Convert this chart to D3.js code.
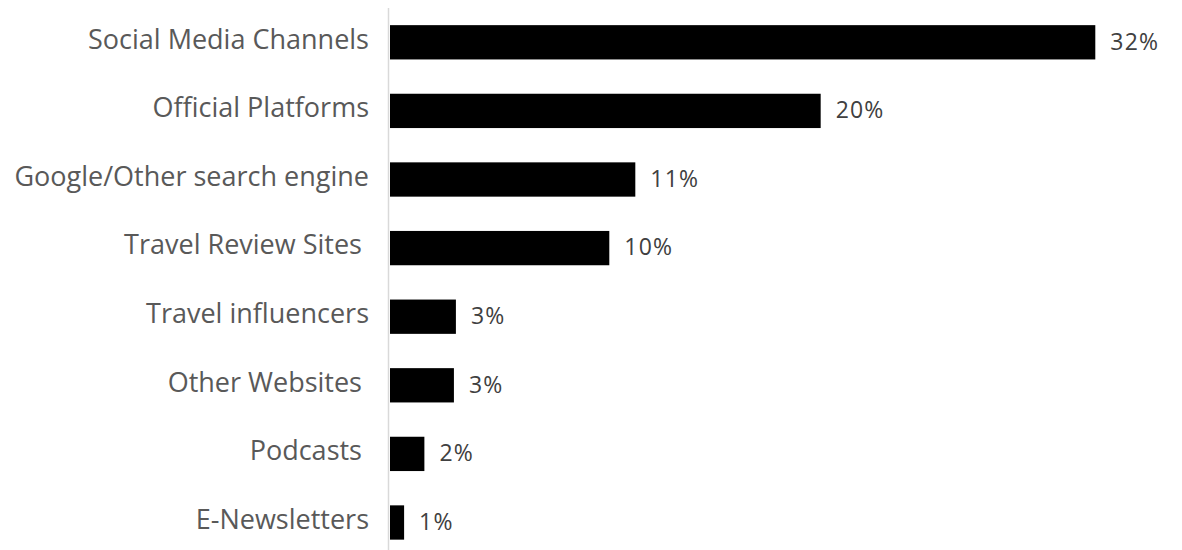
<!DOCTYPE html>
<html>
<head>
<meta charset="utf-8">
<script src="https://cdn.jsdelivr.net/npm/d3@7"></script>
<style>
  html, body { margin: 0; padding: 0; background: #ffffff; }
  svg { display: block; }
  .cat { font-family: "Open Sans", Roboto, sans-serif; font-size: 27px; font-weight: 400; fill: #595959; white-space: pre; }
  .val { font-family: "Open Sans", Roboto, sans-serif; font-size: 23px; font-weight: 400; letter-spacing: 1.2px; fill: #404040; }
</style>
</head>
<body>
<svg id="chart" width="1182" height="550"></svg>
<script>
// Information sources, share of respondents (%)
const categories = [
  "Social Media Channels",
  "Official Platforms",
  "Google/Other search engine",
  "Travel Review Sites ",
  "Travel influencers",
  "Other Websites ",
  "Podcasts ",
  "E-Newsletters"
];
const values = [32, 19.54, 11.13, 9.95, 2.99, 2.9, 1.56, 0.64];

const width = 1182, height = 550;
const margin = { top: 8, right: 60, bottom: 0, left: 390 };

const svg = d3.select("#chart");

const x = d3.scaleLinear()
  .domain([0, 32])
  .range([margin.left, margin.left + 705.3]);

const y = d3.scaleBand()
  .domain(categories)
  .range([margin.top, margin.top + 68.6 * categories.length])
  .paddingInner(0.5)
  .paddingOuter(0.25);

const data = categories.map((c, i) => ({ name: c, value: values[i] }));

// bars
svg.append("g")
  .selectAll("rect")
  .data(data)
  .join("rect")
  .attr("x", x(0))
  .attr("y", d => y(d.name))
  .attr("width", d => x(d.value) - x(0))
  .attr("height", y.bandwidth())
  .attr("fill", "#000000");

// vertical category axis line
svg.append("line")
  .attr("x1", x(0) - 1.5)
  .attr("x2", x(0) - 1.5)
  .attr("y1", margin.top)
  .attr("y2", height)
  .attr("stroke", "#d9d9d9")
  .attr("stroke-width", 1.5);

// category labels
svg.append("g")
  .selectAll("text")
  .data(data)
  .join("text")
  .attr("class", "cat")
  .attr("x", x(0) - 21)
  .attr("y", d => y(d.name) + y.bandwidth() / 2 + 6.3)
  .attr("text-anchor", "end")
  .text(d => d.name);

// value labels
const fmt = d3.format(".0f");
svg.append("g")
  .selectAll("text")
  .data(data)
  .join("text")
  .attr("class", "val")
  .attr("x", d => x(d.value) + 15)
  .attr("y", d => y(d.name) + y.bandwidth() / 2 + 7.2)
  .text(d => fmt(d.value) + "%");
</script>
</body>
</html>
